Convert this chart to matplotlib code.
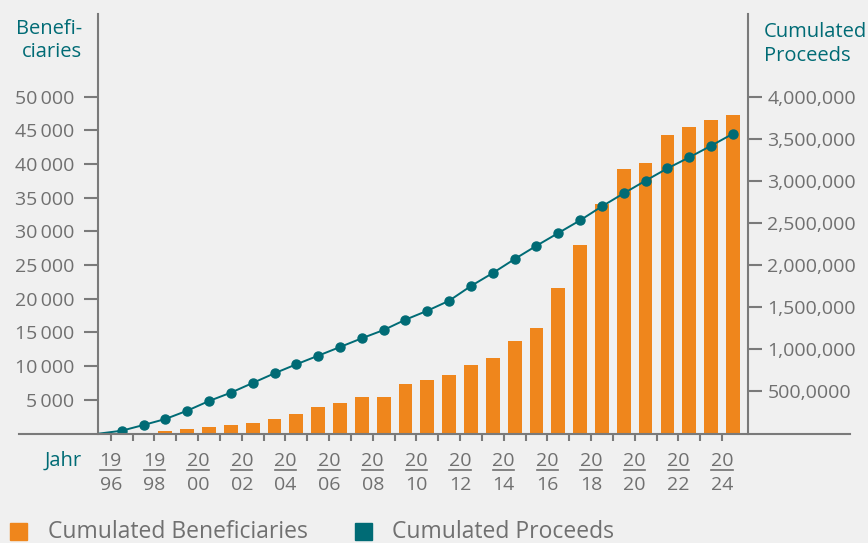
import matplotlib
matplotlib.use('Agg')
import matplotlib.pyplot as plt
from matplotlib.lines import Line2D
from matplotlib.patches import Rectangle
from matplotlib.transforms import blended_transform_factory

plt.rcParams['font.family'] = ['Open Sans', 'DejaVu Sans']

# data
years = list(range(1996, 2025))
beneficiaries = [50, 120, 370, 670, 965, 1300, 1560, 2150, 2900, 3980,
                 4530, 5420, 5420, 7350, 7940, 8680, 10170, 11200, 13730, 15660,
                 21600, 27990, 34080, 39270, 40160, 44320, 45500, 46540, 47280]
proceeds = [33000, 101000, 172000, 271000, 386000, 485000, 600000, 715000, 822000, 924000,
            1027000, 1131000, 1229000, 1352000, 1458000, 1577000, 1752000, 1906000, 2072000, 2230000,
            2381000, 2532000, 2698000, 2853000, 3003000, 3149000, 3280000, 3418000, 3560000]
proceeds_start = 0

left_ticks = [5000, 10000, 15000, 20000, 25000, 30000, 35000, 40000, 45000, 50000]
left_labels = ['5\u2009000', '10\u2009000', '15\u2009000', '20\u2009000', '25\u2009000',
               '30\u2009000', '35\u2009000', '40\u2009000', '45\u2009000', '50\u2009000']
right_ticks = [500000, 1000000, 1500000, 2000000, 2500000, 3000000, 3500000, 4000000]
right_labels = ['500,0000', '1,000,000', '1,500,000', '2,000,000', '2,500,000',
                '3,000,000', '3,500,000', '4,000,000']

orange = '#EF861C'
teal = '#006B75'
grey = '#707070'
bg = '#F0F0F0'

W, H = 868, 543
fig = plt.figure(figsize=(W / 100, H / 100), dpi=100, facecolor=bg)

def fx(px):
    return px / W

def fy(py):
    return 1 - py / H

ax = fig.add_axes([fx(98), fy(433.5), fx(748) - fx(98), fy(14) - fy(433.5)])
ax.set_facecolor(bg)
ax2 = ax.twinx()

x = list(range(len(years)))
ax.bar(x, beneficiaries, width=0.63, color=orange, zorder=2)

ax2.plot([-1] + x, [proceeds_start] + proceeds, color=teal, lw=1.4, zorder=3)
ax2.plot(x, proceeds, 'o', color=teal, ms=6.5, zorder=4)

ax.set_xlim(-1.086, 28.69)
top = 62280
ax.set_ylim(0, top)
ax2.set_ylim(0, top * 80)

for a in (ax, ax2):
    for s in ('top', 'bottom'):
        a.spines[s].set_visible(False)
ax.spines['right'].set_visible(False)
ax2.spines['left'].set_visible(False)
ax.spines['left'].set_color('#7a7a7a')
ax.spines['left'].set_linewidth(1.5)
ax2.spines['right'].set_color('#7a7a7a')
ax2.spines['right'].set_linewidth(1.5)

ax.set_yticks(left_ticks)
ax.set_yticklabels(left_labels)
ax.tick_params(axis='y', length=10, width=1.5, color='#7a7a7a', pad=7,
               labelsize=14, labelcolor=grey)
ax2.set_yticks(right_ticks)
ax2.set_yticklabels(right_labels)
ax2.tick_params(axis='y', length=10, width=1.5, color='#7a7a7a', pad=4,
                labelsize=14, labelcolor=grey)

# year ticks sit at the left edge of each slot
ax.set_xticks([i - 0.5 for i in x])
ax.set_xticklabels([])
ax.tick_params(axis='x', length=5, width=1.5, color='#7a7a7a', direction='out')

# base line reaching past both axes
fig.add_artist(Line2D([fx(19), fx(850)], [fy(433.5), fy(433.5)], color='#7a7a7a', lw=1.5, zorder=5))

# fraction style year labels
tr = blended_transform_factory(ax.transData, fig.transFigure)
for i, yr in zip(x, years):
    if yr % 2:
        continue
    s = str(yr)
    ax.text(i - 0.5, fy(466), s[:2], transform=tr, ha='center', va='baseline',
            fontsize=14, color=grey, clip_on=False)
    ax.text(i - 0.5, fy(490), s[2:], transform=tr, ha='center', va='baseline',
            fontsize=14, color=grey, clip_on=False)
    ax.plot([i - 0.99, i - 0.01], [fy(470), fy(470)], transform=tr, color=grey,
            lw=1.2, clip_on=False)

fig.text(fx(82), fy(466), 'Jahr', ha='right', va='baseline', fontsize=14.5, color=teal)
fig.text(fx(82), fy(34), 'Benefi-', ha='right', va='baseline', fontsize=14.5, color=teal)
fig.text(fx(82), fy(57), 'ciaries', ha='right', va='baseline', fontsize=14.5, color=teal)
fig.text(fx(764), fy(37), 'Cumulated', ha='left', va='baseline', fontsize=14.5, color=teal)
fig.text(fx(764), fy(61), 'Proceeds', ha='left', va='baseline', fontsize=14.5, color=teal)

# legend
fig.add_artist(Rectangle((fx(10), fy(540)), fx(17), 17 / H, color=orange, transform=fig.transFigure))
fig.text(fx(48), fy(538), 'Cumulated Beneficiaries', ha='left', va='baseline', fontsize=16.5, color=grey)
fig.add_artist(Rectangle((fx(355), fy(540)), fx(17), 17 / H, color=teal, transform=fig.transFigure))
fig.text(fx(392), fy(538), 'Cumulated Proceeds', ha='left', va='baseline', fontsize=16.5, color=grey)

fig.savefig('out.png', dpi=100, facecolor=bg)
